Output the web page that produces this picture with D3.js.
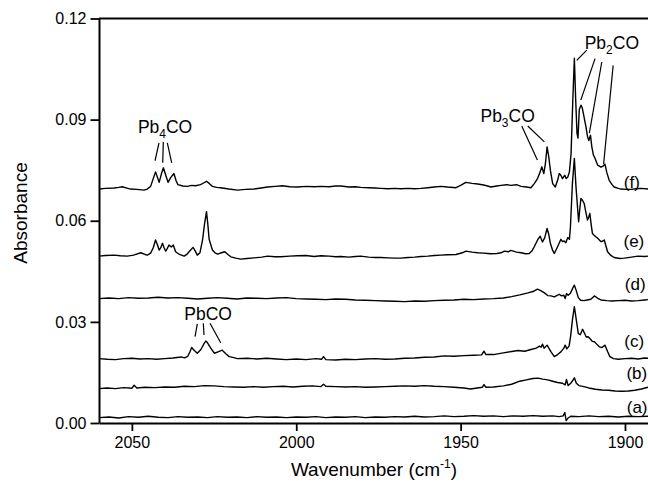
<!DOCTYPE html>
<html><head><meta charset="utf-8">
<script src="https://cdn.jsdelivr.net/npm/d3@7"></script>
<style>
body{margin:0;background:#fff}
svg{display:block}
text{font-family:"Liberation Sans",Arial,Helvetica,sans-serif;fill:#000}
</style>
</head><body><svg id="c" width="648" height="487"></svg>
<script>
// ---------- data ----------
const xTicks = [2050, 2000, 1950, 1900];
const yTicks = [0.00, 0.03, 0.06, 0.09, 0.12];

// [wavenumber (cm-1), absorbance]
const traceA = [[2060,0.0016],[2057,0.0018],[2054,0.0015],[2051,0.0019],[2048,0.0017],[2045,0.0020],[2042,0.0017],[2039,0.0016],[2036,0.0019],[2033,0.0017],[2030,0.0018],[2027,0.0016],[2024,0.0019],[2021,0.0017],[2018,0.0018],[2015,0.0016],[2012,0.0019],[2009,0.0017],[2006,0.0018],[2003,0.0016],[2000,0.0018],[1997,0.0017],[1994,0.0019],[1991,0.0016],[1988,0.0018],[1985,0.0017],[1982,0.0019],[1979,0.0016],[1976,0.0018],[1973,0.0017],[1970,0.0019],[1967,0.0018],[1964,0.0020],[1961,0.0018],[1958,0.0019],[1955,0.0021],[1952,0.0019],[1949,0.0020],[1946,0.0022],[1943,0.0020],[1940,0.0021],[1937,0.0019],[1934,0.0021],[1931,0.0020],[1928,0.0022],[1925,0.0020],[1922,0.0021],[1920,0.0019],[1918.8,0.0021],[1918.3,0.0031],[1917.9,0.0007],[1917.4,0.0014],[1916.5,0.0020],[1914,0.0019],[1911,0.0021],[1908,0.0019],[1905,0.0020],[1902,0.0018],[1899,0.0020],[1896,0.0019],[1893,0.0020]];

const traceB = [[2060,0.0102],[2057.5,0.0104],[2055,0.0102],[2052.5,0.0105],[2050,0.0103],[2049.3,0.0112],[2048.5,0.0104],[2046,0.0106],[2043,0.0105],[2040,0.0107],[2037,0.0106],[2034,0.0109],[2031,0.0108],[2028,0.0111],[2025,0.0110],[2022,0.0108],[2019,0.0107],[2016,0.0106],[2013,0.0108],[2010,0.0106],[2007,0.0108],[2004,0.0109],[2001,0.0107],[1998,0.0109],[1995,0.0110],[1992.5,0.0108],[1991.7,0.0115],[1991,0.0109],[1988,0.0108],[1985,0.0107],[1982,0.0108],[1979,0.0106],[1976,0.0107],[1973,0.0108],[1970,0.0109],[1967,0.0110],[1964,0.0109],[1961,0.0111],[1958,0.0109],[1955,0.0108],[1952,0.0106],[1949,0.0104],[1947,0.0101],[1945,0.0104],[1943.4,0.0106],[1942.9,0.0114],[1942.3,0.0106],[1940,0.0107],[1937,0.0110],[1934.5,0.0115],[1932,0.0124],[1930,0.0128],[1928,0.0132],[1926.5,0.0133],[1925,0.0130],[1923.5,0.0128],[1922,0.0124],[1920.5,0.0120],[1919,0.0118],[1918.2,0.0113],[1917.8,0.0129],[1917.3,0.0111],[1916.5,0.0118],[1915.9,0.0126],[1915.4,0.0134],[1914.8,0.0118],[1914,0.0111],[1912.5,0.0108],[1911,0.0104],[1909,0.0100],[1907,0.0098],[1905,0.0097],[1903,0.0095],[1901,0.0094],[1899,0.0095],[1897,0.0097],[1895,0.0101],[1893,0.0106]];

const traceC = [[2060,0.0191],[2057.5,0.0189],[2055,0.0188],[2052.5,0.0191],[2050,0.0192],[2047.5,0.0190],[2045,0.0191],[2042.5,0.0189],[2040,0.0191],[2037.5,0.0193],[2035,0.0196],[2034,0.0193],[2033,0.0198],[2032.3,0.0212],[2031.8,0.0224],[2031,0.0215],[2030.1,0.0207],[2029,0.0218],[2028,0.0236],[2027.5,0.0243],[2027,0.0238],[2026,0.0222],[2024.9,0.0207],[2023.8,0.0211],[2022.5,0.0216],[2021.5,0.0206],[2020.4,0.0197],[2019,0.0194],[2017.9,0.0191],[2015,0.0192],[2012,0.0190],[2009,0.0192],[2006,0.0190],[2003,0.0188],[2000,0.0190],[1997,0.0188],[1994,0.0191],[1992.3,0.0189],[1991.7,0.0197],[1991,0.0188],[1988,0.0187],[1985,0.0189],[1982,0.0188],[1979,0.0190],[1976,0.0191],[1973,0.0189],[1970,0.0190],[1967,0.0192],[1964,0.0193],[1961,0.0195],[1958,0.0196],[1955,0.0199],[1952,0.0198],[1949,0.0200],[1946,0.0201],[1943.6,0.0202],[1942.9,0.0213],[1942.3,0.0203],[1940,0.0203],[1937,0.0208],[1934.5,0.0212],[1932.5,0.0215],[1930.5,0.0213],[1928.6,0.0218],[1927,0.0222],[1926,0.0228],[1925.5,0.0225],[1925.1,0.0234],[1924.6,0.0222],[1923.7,0.0231],[1922.5,0.0211],[1921.5,0.0197],[1920.5,0.0203],[1919.5,0.0211],[1918.6,0.0222],[1918.2,0.0231],[1917.7,0.0220],[1917,0.0228],[1916.5,0.0260],[1916,0.0305],[1915.4,0.0345],[1914.8,0.0305],[1914.2,0.0265],[1913.6,0.0262],[1912.9,0.0278],[1912.3,0.0266],[1911.8,0.0255],[1911.2,0.0256],[1910.6,0.0250],[1909.9,0.0242],[1909.3,0.0241],[1908.6,0.0234],[1907.8,0.0226],[1907,0.0224],[1906.1,0.0231],[1905.3,0.0212],[1904.6,0.0197],[1903.5,0.0191],[1902,0.0189],[1900,0.0191],[1898,0.0192],[1896,0.0190],[1894,0.0193],[1893,0.0192]];

const traceD = [[2060,0.0369],[2057,0.0371],[2054,0.0369],[2051,0.0372],[2048,0.0370],[2045,0.0371],[2042,0.0373],[2039,0.0371],[2036,0.0372],[2033,0.0370],[2030,0.0368],[2027,0.0370],[2024,0.0372],[2021,0.0370],[2018,0.0368],[2015,0.0371],[2012,0.0370],[2009,0.0369],[2006,0.0371],[2003,0.0372],[2000,0.0369],[1997,0.0368],[1994,0.0367],[1991,0.0366],[1988,0.0368],[1985,0.0367],[1982,0.0365],[1979,0.0364],[1976,0.0363],[1973,0.0362],[1970,0.0361],[1967,0.0360],[1964,0.0362],[1961,0.0361],[1958,0.0363],[1955,0.0364],[1952,0.0365],[1949,0.0367],[1946,0.0366],[1943,0.0368],[1940,0.0369],[1937,0.0371],[1934.5,0.0375],[1932,0.0380],[1929.5,0.0386],[1928,0.0390],[1926.6,0.0397],[1925.5,0.0392],[1924.5,0.0386],[1923.5,0.0378],[1922.5,0.0377],[1921.5,0.0374],[1920.5,0.0379],[1920,0.0382],[1919.3,0.0377],[1918.6,0.0379],[1918.2,0.0369],[1917.8,0.0384],[1917.3,0.0379],[1916.6,0.0385],[1916,0.0398],[1915.4,0.0409],[1914.8,0.0392],[1914.2,0.0372],[1913.5,0.0364],[1912.5,0.0363],[1911.5,0.0365],[1910.4,0.0367],[1909.3,0.0377],[1908.3,0.0370],[1907.3,0.0365],[1905.5,0.0363],[1904,0.0362],[1902,0.0363],[1900,0.0364],[1898,0.0362],[1896,0.0363],[1894,0.0365],[1893,0.0366]];

const traceE = [[2060,0.0495],[2058,0.0497],[2055.4,0.0498],[2053.5,0.0496],[2051.4,0.0495],[2049.5,0.0498],[2047.3,0.0505],[2046,0.0500],[2045.3,0.0498],[2044.3,0.0504],[2043.5,0.0520],[2042.8,0.0543],[2042.2,0.0528],[2041.7,0.0513],[2041.2,0.0520],[2040.7,0.0533],[2040.2,0.0520],[2039.7,0.0510],[2039.2,0.0518],[2038.7,0.0528],[2038,0.0522],[2037.4,0.0528],[2036.7,0.0508],[2035.5,0.0500],[2034.1,0.0495],[2033.3,0.0500],[2032.6,0.0508],[2031.4,0.0521],[2030.7,0.0510],[2030.1,0.0498],[2029.3,0.0505],[2028.5,0.0543],[2027.9,0.0590],[2027.3,0.0627],[2026.9,0.0590],[2026.5,0.0545],[2025.5,0.0513],[2024.7,0.0505],[2023.9,0.0501],[2022.8,0.0505],[2021.7,0.0508],[2020.8,0.0500],[2019.9,0.0493],[2018.4,0.0489],[2016.9,0.0486],[2015,0.0488],[2012.8,0.0490],[2010.5,0.0492],[2008.7,0.0495],[2006.5,0.0493],[2004.7,0.0493],[2002,0.0495],[1999.6,0.0496],[1997,0.0497],[1994.6,0.0494],[1992.5,0.0496],[1990,0.0495],[1988,0.0493],[1986.4,0.0494],[1984,0.0492],[1982,0.0494],[1980.4,0.0495],[1978,0.0492],[1976,0.0491],[1974.3,0.0491],[1972,0.0490],[1970,0.0489],[1968.2,0.0489],[1966,0.0491],[1964,0.0492],[1962.1,0.0494],[1960,0.0495],[1958,0.0497],[1956,0.0498],[1954,0.0499],[1951.4,0.0500],[1949.5,0.0505],[1948.4,0.0510],[1946.5,0.0507],[1944.8,0.0505],[1943,0.0504],[1941.8,0.0503],[1940.8,0.0502],[1939,0.0503],[1937.7,0.0505],[1936.7,0.0510],[1935.5,0.0508],[1934.7,0.0512],[1933,0.0507],[1931.6,0.0505],[1930.3,0.0502],[1929.1,0.0503],[1928.2,0.0512],[1927.6,0.0523],[1926.6,0.0543],[1925.8,0.0554],[1925.1,0.0537],[1924.4,0.0550],[1923.7,0.0577],[1923.2,0.0560],[1922.7,0.0533],[1922,0.0512],[1921.5,0.0503],[1920.5,0.0523],[1919.5,0.0545],[1919,0.0538],[1918.5,0.0540],[1918,0.0535],[1917.4,0.0550],[1916.9,0.0545],[1916.6,0.0580],[1916.0,0.0710],[1915.4,0.0785],[1914.9,0.0700],[1914.6,0.0661],[1914.1,0.0597],[1913.7,0.0640],[1913.4,0.0666],[1912.9,0.0660],[1912.4,0.0651],[1911.9,0.0625],[1911.4,0.0602],[1911,0.0612],[1910.7,0.0622],[1910.3,0.0590],[1909.9,0.0562],[1909.2,0.0555],[1908.8,0.0552],[1908.3,0.0548],[1907.3,0.0538],[1906.7,0.0540],[1906.3,0.0543],[1905.8,0.0525],[1905.3,0.0508],[1904.3,0.0497],[1903.3,0.0491],[1901.5,0.0488],[1900.2,0.0489],[1898,0.0492],[1896.1,0.0495],[1894,0.0494],[1893,0.0495]];

const traceF = [[2060,0.0694],[2058,0.0696],[2055.4,0.0697],[2054,0.0699],[2052.9,0.0701],[2051.5,0.0697],[2050.4,0.0694],[2048.5,0.0693],[2046.3,0.0691],[2045.3,0.0694],[2044.3,0.0702],[2043.5,0.0725],[2042.8,0.0745],[2042.2,0.0728],[2041.7,0.0714],[2041,0.0740],[2040.4,0.0757],[2039.7,0.0735],[2039.0,0.0714],[2038.2,0.0728],[2037.2,0.0740],[2036.6,0.0720],[2036.0,0.0707],[2034.5,0.0703],[2033.1,0.0702],[2031.8,0.0705],[2030.6,0.0704],[2029.1,0.0707],[2028.2,0.0712],[2027.3,0.0717],[2026.4,0.0710],[2025.5,0.0702],[2024.2,0.0699],[2023.0,0.0698],[2020.5,0.0694],[2017.9,0.0691],[2015.4,0.0693],[2012.8,0.0694],[2010.7,0.0697],[2008.7,0.0700],[2006.4,0.0702],[2004.2,0.0704],[2002,0.0701],[1999.6,0.0700],[1997,0.0702],[1994.5,0.0701],[1992.5,0.0702],[1990,0.0701],[1988,0.0703],[1986.4,0.0703],[1984,0.0700],[1982,0.0701],[1980.4,0.0699],[1978,0.0698],[1976,0.0697],[1974.3,0.0696],[1972,0.0695],[1970,0.0696],[1968.2,0.0695],[1966,0.0696],[1964,0.0695],[1962.1,0.0696],[1960,0.0698],[1958,0.0700],[1956,0.0702],[1954,0.0700],[1951.4,0.0698],[1950,0.0705],[1948.4,0.0714],[1946.5,0.0711],[1944.8,0.0709],[1943,0.0706],[1941.8,0.0703],[1940.8,0.0700],[1939,0.0703],[1937.7,0.0705],[1936,0.0707],[1934.7,0.0705],[1933,0.0707],[1931.6,0.0702],[1930,0.0700],[1928.6,0.0698],[1927.6,0.0710],[1926.6,0.0725],[1925.8,0.0745],[1925.3,0.0760],[1924.7,0.0740],[1924.2,0.0770],[1923.7,0.0819],[1923.2,0.0790],[1922.7,0.0750],[1922.0,0.0710],[1921.2,0.0700],[1920.5,0.0720],[1920.0,0.0740],[1919.5,0.0735],[1919.0,0.0725],[1918.3,0.0735],[1917.9,0.0725],[1917.4,0.0730],[1916.9,0.0745],[1916.4,0.0800],[1915.9,0.0950],[1915.4,0.1082],[1915.0,0.0960],[1914.6,0.0860],[1914.3,0.0845],[1913.9,0.0930],[1913.4,0.0943],[1913.0,0.0935],[1912.4,0.0905],[1911.9,0.0880],[1911.4,0.0850],[1911.0,0.0838],[1910.5,0.0854],[1910.1,0.0820],[1909.6,0.0795],[1909.1,0.0785],[1908.3,0.0765],[1907.3,0.0759],[1906.7,0.0762],[1906.1,0.0768],[1905.5,0.0742],[1904.8,0.0720],[1904,0.0708],[1903.3,0.0700],[1902,0.0696],[1901.2,0.0694],[1899.5,0.0693],[1898.2,0.0693],[1896.6,0.0695],[1895.1,0.0696],[1893,0.0694]];

const traces = [traceA, traceB, traceC, traceD, traceE, traceF];

// trace labels: text, wavenumber (centre), absorbance (centre)
const traceLabels = [["(a)",1896.3,0.0045],["(b)",1896.4,0.0145],["(c)",1897.2,0.0241],["(d)",1896.9,0.0409],["(e)",1897.3,0.0538],["(f)",1897.9,0.0711]];

// annotation labels: base, subscript, rest, wavenumber (centre), absorbance (baseline)
const annotLabels = [["Pb","4","CO",2039.9,0.0861],["PbCO","","",2026.8,0.0305],["Pb","3","CO",1935.7,0.0893],["Pb","2","CO",1904.0,0.1111]];

// leader lines: [wn1, abs1, wn2, abs2]
const leaders = [
  [2041.75,0.0831,2042.96,0.0778],[2040.44,0.0834,2040.62,0.0772],[2039.22,0.0831,2037.88,0.0772],
  [2030.09,0.0294,2030.79,0.0256],[2028.27,0.0296,2028.06,0.0261],[2026.23,0.0296,2022.98,0.0238],
  [1931.4,0.0881,1926.65,0.0780],[1929.58,0.0881,1924.53,0.0834],
  [1911.63,0.1106,1914.67,0.1076],[1909.1,0.1081,1913.45,0.0958],[1907.06,0.1071,1910.84,0.0860],[1903.6,0.1061,1906.5,0.0768]
];

// ---------- drawing ----------
const svg = d3.select("#c");
const x = d3.scaleLinear().domain([2060, 1893]).range([99, 648]);
const y = d3.scaleLinear().domain([0, 0.12]).range([423, 18.5]);

const line = d3.line().x(d => x(d[0])).y(d => y(d[1]));
svg.append("g").selectAll("path").data(traces).join("path")
  .attr("d", line).attr("fill", "none").attr("stroke", "#000")
  .attr("stroke-width", 1.4).attr("stroke-linejoin", "round");

// axes
const xAxis = svg.append("g").attr("transform", `translate(0,${y(0)})`)
  .call(d3.axisBottom(x).tickValues(xTicks).tickFormat(d3.format("d")).tickSize(8).tickSizeOuter(0).tickPadding(6));
const yAxis = svg.append("g").attr("transform", `translate(${x(2060)},0)`)
  .call(d3.axisLeft(y).tickValues(yTicks).tickFormat(d3.format(".2f")).tickSize(8.5).tickSizeOuter(0).tickPadding(4));
[xAxis, yAxis].forEach(g => {
  g.select(".domain").attr("stroke", "#000").attr("stroke-width", 2);
  g.selectAll(".tick line").attr("stroke", "#000").attr("stroke-width", 1.8);
  g.selectAll(".tick text").attr("font-size", 16).attr("fill", "#000")
    .attr("font-family", '"Liberation Sans",Arial,sans-serif');
});
// top frame line
svg.append("line").attr("x1", x(2060)).attr("x2", x(1893)).attr("y1", y(0.12)).attr("y2", y(0.12))
  .attr("stroke", "#000").attr("stroke-width", 2);

// axis titles
svg.append("text").attr("transform", "translate(26.5,213) rotate(-90)")
  .attr("text-anchor", "middle").attr("font-size", 19).text("Absorbance");
const xt = svg.append("text").attr("x", 374).attr("y", 476).attr("text-anchor", "middle").attr("font-size", 19);
xt.append("tspan").text("Wavenumber (cm");
xt.append("tspan").attr("font-size", 12).attr("dy", -8).text("-1");
xt.append("tspan").attr("dy", 8).text(")");

// trace labels
svg.append("g").selectAll("text").data(traceLabels).join("text")
  .attr("x", d => x(d[1])).attr("y", d => y(d[2])).attr("dy", "0.3em")
  .attr("text-anchor", "middle").attr("font-size", 17).text(d => d[0]);

// annotations
annotLabels.forEach(d => {
  const t = svg.append("text").attr("x", x(d[3])).attr("y", y(d[4]))
    .attr("text-anchor", "middle").attr("font-size", 17.5);
  t.append("tspan").text(d[0]);
  if (d[1]) {
    t.append("tspan").attr("font-size", 12).attr("dy", 5).text(d[1]);
    t.append("tspan").attr("dy", -5).text(d[2]);
  }
});
svg.append("g").selectAll("line").data(leaders).join("line")
  .attr("x1", d => x(d[0])).attr("y1", d => y(d[1]))
  .attr("x2", d => x(d[2])).attr("y2", d => y(d[3]))
  .attr("stroke", "#000").attr("stroke-width", 1.2);
</script>
</body></html>
